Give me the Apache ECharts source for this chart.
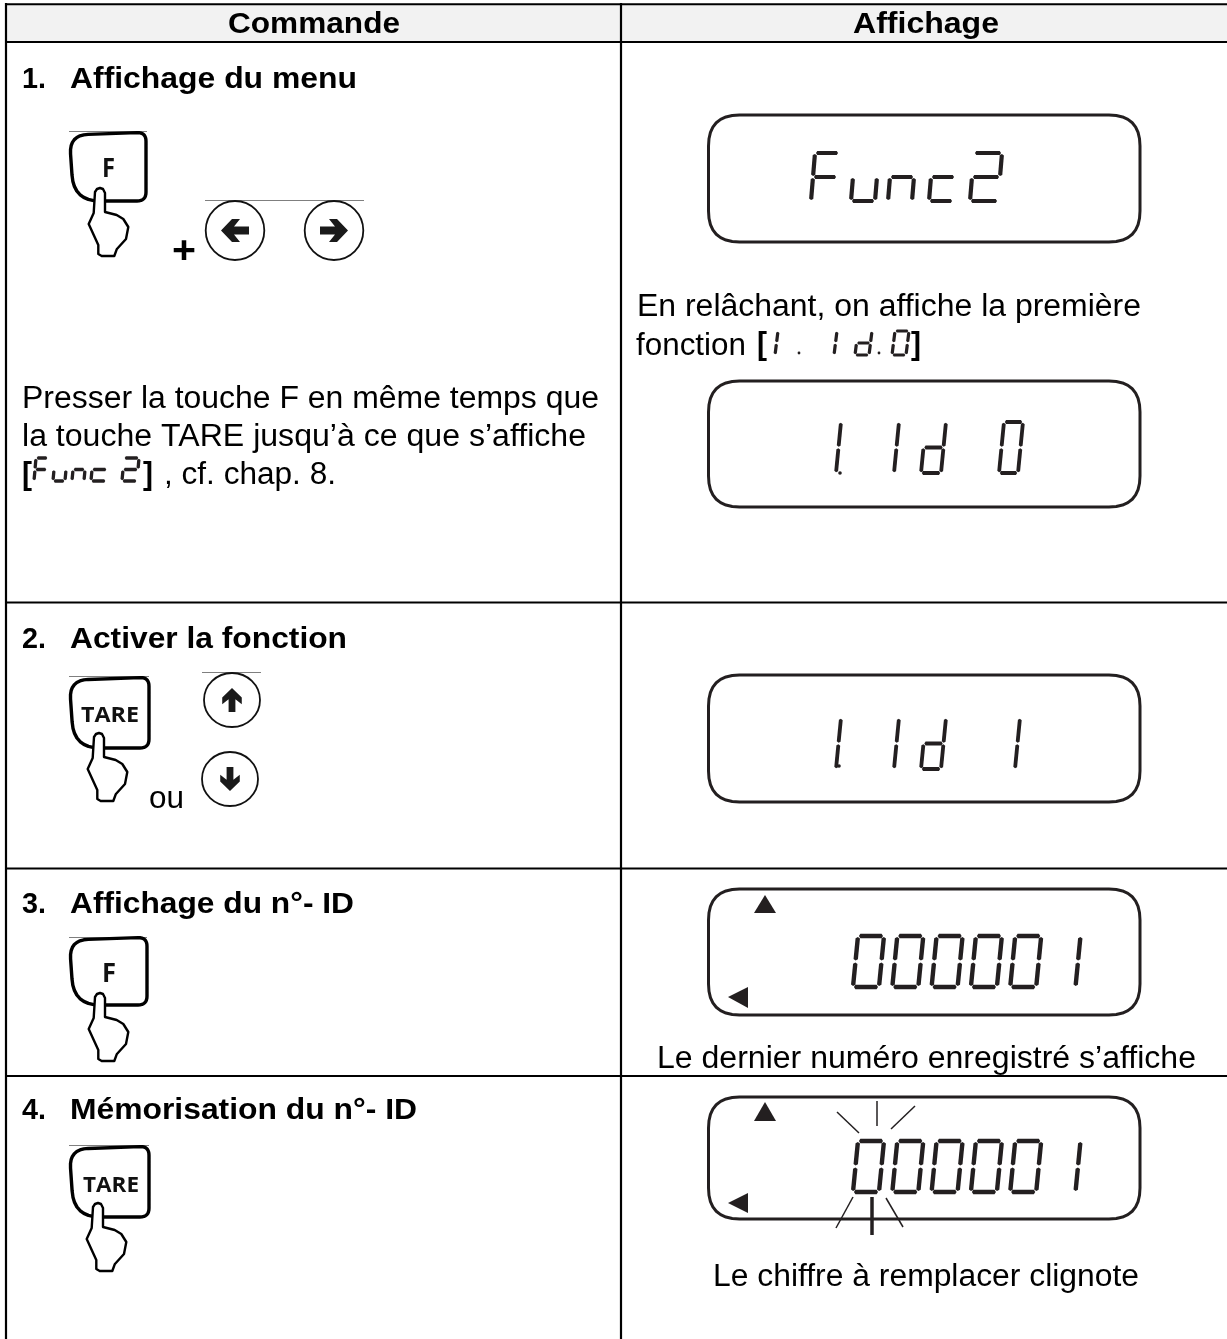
<!DOCTYPE html>
<html><head><meta charset="utf-8">
<style>html,body{margin:0;padding:0;background:#fff}#c{width:1227px;height:1339px}</style>
<script src="https://cdn.jsdelivr.net/npm/echarts@6/dist/echarts.min.js"></script>
</head><body><div id="c"></div>
<script>
// ---- content ----
const headers = ['Commande', 'Affichage'];
const stepNumbers = ['1.', '2.', '3.', '4.'];
const stepTitles = ['Affichage du menu', 'Activer la fonction', 'Affichage du n°- ID', 'Mémorisation du n°- ID'];
const pressLines = ['Presser la touche F en même temps que', 'la touche TARE jusqu’à ce que s’affiche', ', cf. chap. 8.'];
const releaseLines = ['En relâchant, on affiche la première', 'fonction'];
const captions = ['Le dernier numéro enregistré s’affiche', 'Le chiffre à remplacer clignote'];
const orWord = 'ou';
const plusSign = '+';
const keyLabels = ['F', 'TARE', 'F', 'TARE'];
const lcdFunc = ['F', 'u', 'n', 'c', '2'];
const lcdOff = ['1', '1', 'd', '0'];
const lcdOn = ['1', '1', 'd', '1'];
const lcdId = ['0', '0', '0', '0', '0', '1'];

// ---- helpers ----
const INK = '#000', LCD = '#231f20', SANS = '"Liberation Sans", Arial, sans-serif';
const g = [];
const mctx = document.createElement('canvas').getContext('2d');
function T(str, x0, x1, base, fs, o) {
  o = o || {};
  const w = o.weight || 'normal', fam = o.family || SANS;
  mctx.font = w + ' ' + fs + 'px ' + fam;
  const sx = (x1 - x0) / mctx.measureText(str).width;
  g.push({type: 'text', x: x0, y: base - (o.k || (w === 'bold' ? 0.275 : 0.25)) * fs, scaleX: sx, z: 10,
    style: {text: str, x: 0, y: 0, fontSize: fs, fontWeight: w, fontFamily: fam, fill: o.fill || '#000', align: 'left', verticalAlign: 'middle'}});
}
let o_z = 1;
function L(x1, y1, x2, y2, w, c) {
  g.push({type: 'line', z: o_z, shape: {x1, y1, x2, y2}, style: {stroke: c || INK, lineWidth: w}});
}
function P(points, fill, stroke, lw, z) {
  g.push({type: 'polygon', z: z || 3, shape: {points}, style: {fill: fill, stroke: stroke || null, lineWidth: lw || 0, lineJoin: 'round'}});
}
function rounded(pts) {
  const out = [];
  const n = pts.length;
  for (let i = 0; i < n; i++) {
    const p = pts[i], a = pts[(i + n - 1) % n], b = pts[(i + 1) % n], r = p[2] || 0;
    if (!r) { out.push([p[0], p[1]]); continue; }
    const la = Math.hypot(a[0] - p[0], a[1] - p[1]), lb = Math.hypot(b[0] - p[0], b[1] - p[1]);
    const ra = Math.min(r, la / 2), rb = Math.min(r, lb / 2);
    const s = [p[0] + (a[0] - p[0]) * ra / la, p[1] + (a[1] - p[1]) * ra / la];
    const e = [p[0] + (b[0] - p[0]) * rb / lb, p[1] + (b[1] - p[1]) * rb / lb];
    for (let t = 0; t <= 1.001; t += 0.125) {
      out.push([(1 - t) * (1 - t) * s[0] + 2 * t * (1 - t) * p[0] + t * t * e[0],
                (1 - t) * (1 - t) * s[1] + 2 * t * (1 - t) * p[1] + t * t * e[1]]);
    }
  }
  return out;
}
const SEG = {0: 'abcdef', 1: 'bc', 2: 'abged', F: 'aefg', u: 'cde', n: 'ceh', c: 'deg', d: 'bcdeg'};
function digit(ch, x, y, w, h, skew, t) {
  const pt = (u, v) => [x + u * w + (1 - v) * skew, y + v * h];
  const ends = {a: [[0, 0], [1, 0]], b: [[1, 0], [1, .5]], c: [[1, .5], [1, 1]], d: [[0, 1], [1, 1]], e: [[0, .5], [0, 1]], f: [[0, 0], [0, .5]], g: [[0, .5], [1, .5]], h: [[0, .5], [1, .5]]};
  for (const s of SEG[ch]) {
    const p = pt(...ends[s][0]), q = pt(...ends[s][1]);
    const len = Math.hypot(q[0] - p[0], q[1] - p[1]);
    const dx = (q[0] - p[0]) / len, dy = (q[1] - p[1]) / len, nx = -dy, ny = dx;
    const gap = t * 0.22, hw = t / 2, tp = t * 0.32;
    const A = [p[0] + dx * gap, p[1] + dy * gap], D = [q[0] - dx * gap, q[1] - dy * gap];
    const B = [A[0] + dx * tp + nx * hw, A[1] + dy * tp + ny * hw], C = [D[0] - dx * tp + nx * hw, D[1] - dy * tp + ny * hw];
    const E = [D[0] - dx * tp - nx * hw, D[1] - dy * tp - ny * hw], F = [A[0] + dx * tp - nx * hw, A[1] + dy * tp - ny * hw];
    P([A, B, C, D, E, F], LCD, null, 0, 6);
  }
}
function dot(x, y, r, c) { g.push({type: 'circle', z: 6, shape: {cx: x, cy: y, r}, style: {fill: c || LCD}}); }
function lcdBox(y0, y1) {
  const x0 = 708.5, x1 = 1140;
  P(rounded([[x0, y0, 31], [x1, y0, 31], [x1, y1, 31], [x0, y1, 31]]), '#fff', LCD, 3, 2);
}
function key(label, x, y, w, h, tx, ty, lineX1, lineY, x0, x1, base, fs) {
  L(x - 1, lineY, lineX1, lineY, 1, '#7f7f7f');
  const q = (a, b, r) => [x + a * w, y + b * h, r];
  P(rounded([q(-0.01, 0.03, 19), q(1, -0.01, 9), q(1, 1, 9), q(0.05, 1, 26)]), '#fff', INK, 3.4, 3);
  const hand = [[-5, 4], [-6.3, 25], [-11.3, 36], [-1.7, 57], [-1.7, 66], [1.7, 68], [14.3, 68], [16.7, 61.3], [26, 51], [28.3, 39], [23.3, 31], [16.7, 27], [5, 24], [5, 5], [3, 1], [0, 0], [-3, 1]];
  P(hand.map(p => [tx + p[0], ty + p[1]]), '#fff', INK, 2.4, 4);
  T(label, x0, x1, base, fs, {weight: 'bold', family: '"Open Sans", sans-serif', k: 0.3, fill: '#111'});
}
function circleKey(cx, cy, rx, ry, rot, sc) {
  g.push({type: 'ellipse', z: 3, shape: {cx, cy, rx, ry}, style: {fill: '#fff', stroke: '#111', lineWidth: 1.8}});
  const a = [[-14, -4], [1, -4], [-5, -11.5], [3, -11.5], [14, 0], [3, 11.5], [-5, 11.5], [1, 4], [-14, 4]];
  const c = Math.cos(rot), s = Math.sin(rot);
  P(a.map(p => [cx + (p[0] * c - p[1] * s) * sc, cy + (p[0] * s + p[1] * c) * sc]), '#1a1a1a', null, 0, 4);
}

// ---- table ----
g.push({type: 'rect', z: 0, shape: {x: 6, y: 4, width: 1221, height: 38}, style: {fill: '#f2f2f2'}});
[[4.2, 2], [42, 2.2], [602.5, 2.2], [868.5, 2.2], [1076, 2.2]].forEach(r => L(5, r[0], 1227, r[0], r[1]));
L(6, 3, 6, 1339, 2.2);
L(621, 3, 621, 1339, 2.2);

T(headers[0], 228, 400, 33, 29, {weight: 'bold'});
T(headers[1], 853, 999, 33, 29, {weight: 'bold'});

const titleBase = [88, 648, 913, 1119], titleEnd = [357, 347, 354, 417];
stepTitles.forEach((s, i) => {
  T(stepNumbers[i], 22, 46, titleBase[i], 29, {weight: 'bold'});
  T(s, 70, titleEnd[i], titleBase[i], 29, {weight: 'bold'});
});

T(pressLines[0], 22, 599, 407, 31);
T(pressLines[1], 22, 586, 445, 31);
T('[', 22, 32, 484, 31, {weight: 'bold'});
T(']', 143, 153, 484, 31, {weight: 'bold'});
T(pressLines[2], 164, 336, 483, 31);
[[0, 34, 12], [1, 53, 12], [2, 72, 12], [3, 91, 15], [4, 122, 15]].forEach(d => digit(lcdFunc[d[0]], d[1], 458, d[2], 23, 2, 3.3));

T(releaseLines[0], 637, 1141, 315, 31);
T(releaseLines[1], 636, 746, 354, 31);
T('[', 757, 767, 354, 31, {weight: 'bold'});
T(']', 911, 921, 354, 31, {weight: 'bold'});
[[0, 762], [1, 821]].forEach(d => digit(lcdOff[d[0]], d[1], 331, 13, 24, 3, 3.2));
digit('d', 855, 331, 14, 24, 3, 3.2);
digit('0', 892, 331, 14, 24, 3, 3.2);
dot(799, 353, 1.4); dot(879, 353, 1.4);

T(captions[0], 657, 1196, 1067, 31);
T(captions[1], 713, 1139, 1285, 31);

T(orWord, 149, 184, 807, 31);
T(plusSign, 172, 196, 263, 38, {weight: 'bold'});

// ---- keys ----
key(keyLabels[0], 70, 133, 76, 68, 100, 188, 147, 131.5, 102, 115, 177, 26);
key(keyLabels[1], 70, 678, 79, 70, 99, 733, 149, 676.5, 81, 139, 722, 21);
key(keyLabels[2], 70, 938, 77, 67, 100, 993, 147, 937.5, 102, 116, 982, 26);
key(keyLabels[3], 70, 1147, 79, 70, 98, 1203, 149, 1145.5, 83, 139, 1192, 21);

o_z = 1;
L(205, 200.5, 364, 200.5, 1, '#7f7f7f');
circleKey(235, 230.5, 29.3, 29.5, Math.PI, 1);
circleKey(334, 230.5, 29.3, 29.5, 0, 1);
L(202, 672.5, 261, 672.5, 1, '#7f7f7f');
circleKey(232, 700, 28, 27, -Math.PI / 2, 0.85);
circleKey(230, 779, 28, 27, Math.PI / 2, 0.85);

// ---- displays ----
lcdBox(115, 242);
const funcX = [811, 851, 888, 929, 970];
lcdFunc.forEach((c, i) => digit(c, funcX[i], 153, i === 4 ? 28 : 24, 48, 4, 4.2));

lcdBox(381, 507);
const offX = [817, 875, 921, 999];
lcdOff.forEach((c, i) => digit(c, offX[i], 422, i === 2 ? 20 : 19, 51, 5, 3.8));
dot(840, 473, 1.8);

lcdBox(675, 802);
const onX = [817, 875, 921, 996];
lcdOn.forEach((c, i) => digit(c, onX[i], 718, i === 2 ? 20 : 19, 51, 5, 3.8));
dot(839, 766, 1.8);

lcdBox(889, 1015);
lcdBox(1097, 1219);
[936, 1141].forEach(top => {
  lcdId.forEach((c, i) => digit(c, 853 + 39.3 * i, top, 26, 51, 5, 4.4));
});
[[895, 913, 997, 987, 1008], [1102, 1121, 1203, 1193, 1213]].forEach(t => {
  P([[765, t[0]], [776, t[1]], [754, t[1]]], LCD, null, 0, 5);
  P([[728, t[2]], [748, t[3]], [748, t[4]]], LCD, null, 0, 5);
});
o_z = 5;
L(837, 1112, 859, 1133, 1.5, LCD);
L(877, 1101, 877, 1126, 1.5, LCD);
L(915, 1106, 891, 1129, 1.5, LCD);
L(853, 1197, 836, 1228, 1.5, LCD);
L(872, 1197, 872, 1235, 3.5, LCD);
L(886, 1198, 903, 1227, 1.5, LCD);

const chart = echarts.init(document.getElementById('c'), null, {renderer: 'canvas', width: 1227, height: 1339});
chart.setOption({animation: false, backgroundColor: '#fff', graphic: {elements: g}});
</script></body></html>
